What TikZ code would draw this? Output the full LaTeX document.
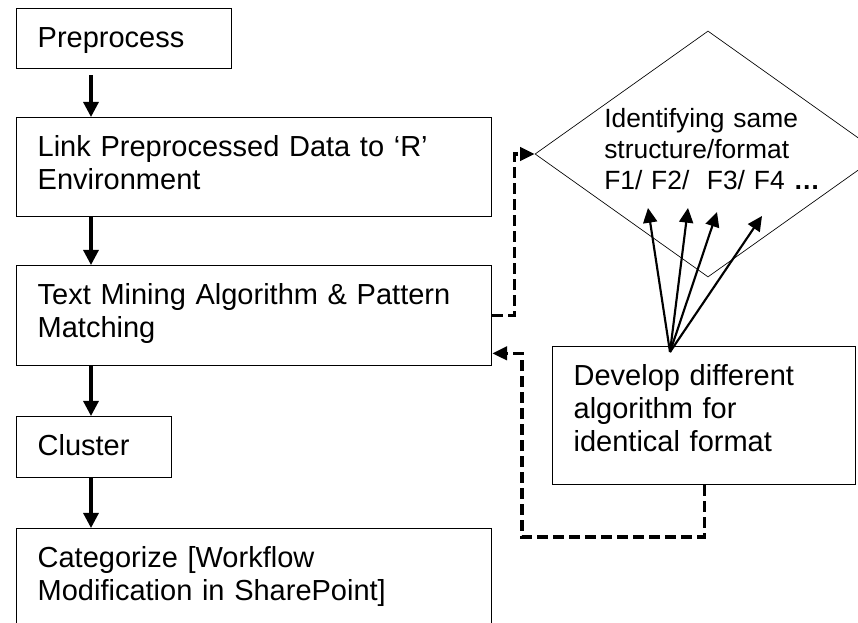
\documentclass[tikz,border=0pt]{standalone}
\usepackage{fontspec}
\setmainfont{Liberation Sans}
\usetikzlibrary{arrows.meta,shapes.geometric,calc}

\tikzset{
  stepbox/.style={draw, line width=1pt, anchor=north west, inner xsep=15.75pt, inner ysep=0pt,
    align=left, text height=28.875pt, font=\fontsize{21.75pt}{25pt}\selectfont},
  flow/.style={line width=2.4pt, -{Triangle[length=11.25pt,width=11.25pt]}},
  back/.style={line width=2.4pt, dash pattern=on 8.25pt off 3.75pt, -{Triangle[length=11pt,width=10pt]}},
  fan/.style={line width=1.6pt, -{Triangle[length=11pt,width=10.5pt]}}
}

\begin{document}
\begin{tikzpicture}[x=0.75pt,y=0.75pt,yscale=-1,xscale=1]
\path[use as bounding box, clip] (0,0) rectangle (858,623);

%Shape: Rectangle
\node[stepbox, text width=129.75pt, text depth=16.125pt] (pre) at (16,8) {Preprocess};
%Shape: Rectangle
\node[stepbox, text width=324.75pt, text depth=45.375pt] (link) at (16,117) {Link Preprocessed Data to ‘R’\\Environment};
%Shape: Rectangle
\node[stepbox, text width=324.75pt, text depth=46.125pt] (mine) at (16,265) {Text Mining Algorithm \& Pattern\\Matching};
%Shape: Rectangle
\node[stepbox, text width=84.75pt, text depth=16.875pt] (clus) at (16,416) {Cluster};
%Shape: Rectangle
\node[stepbox, text width=324.75pt, text depth=55.125pt] (cat) at (16,528) {Categorize [Workflow\\Modification in SharePoint]};
%Shape: Rectangle
\node[stepbox, text width=195.75pt, text depth=74.625pt] (dev) at (552,346) {Develop different\\algorithm for\\identical format};

%Shape: Diamond
\node[draw, diamond, line width=0.5pt, inner sep=0pt, minimum width=259.5pt, minimum height=184.5pt] (dia) at (708,154) {};
% Text Node
\node[anchor=base west, inner sep=0pt, text width=240pt, align=left, font=\fontsize{19.8pt}{23.25pt}\selectfont] (dtext) at (604,128) {Identifying same\\structure/format\\F1/ F2/\ \ F3/ F4 \textbf{…}};

%Straight Lines
\draw[flow] ($(pre.south west)+(75,6)$) -- ($(link.north west)+(75,0)$);
%Straight Lines
\draw[flow] ($(link.south west)+(75,0)$) -- ($(mine.north west)+(75,0)$);
%Straight Lines
\draw[flow] ($(mine.south west)+(75,0)$) -- ($(clus.north west)+(75,0)$);
%Straight Lines
\draw[flow] ($(clus.south west)+(75,0)$) -- ($(cat.north west)+(75,0)$);

%Dashed Lines
\coordinate (fwd) at ($(mine.east)+(22,0)$);
\draw[back] (mine.east) -- (fwd) |- (dia.west);
%Dashed Lines
\coordinate (turn) at (522,537);
\coordinate (minein) at ($(mine.south east)+(0,-13)$);
\draw[back] (dev.south) |- (turn) |- (minein);

%Straight Lines
\coordinate (fan) at (670,352);
\coordinate (f1) at (648,208);
\coordinate (f2) at (688,208);
\coordinate (f3) at (717,212);
\coordinate (f4) at (762,216);
\draw[fan] (fan) -- (f1);
\draw[fan] (fan) -- (f2);
\draw[fan] (fan) -- (f3);
\draw[fan] (fan) -- (f4);

\end{tikzpicture}
\end{document}
